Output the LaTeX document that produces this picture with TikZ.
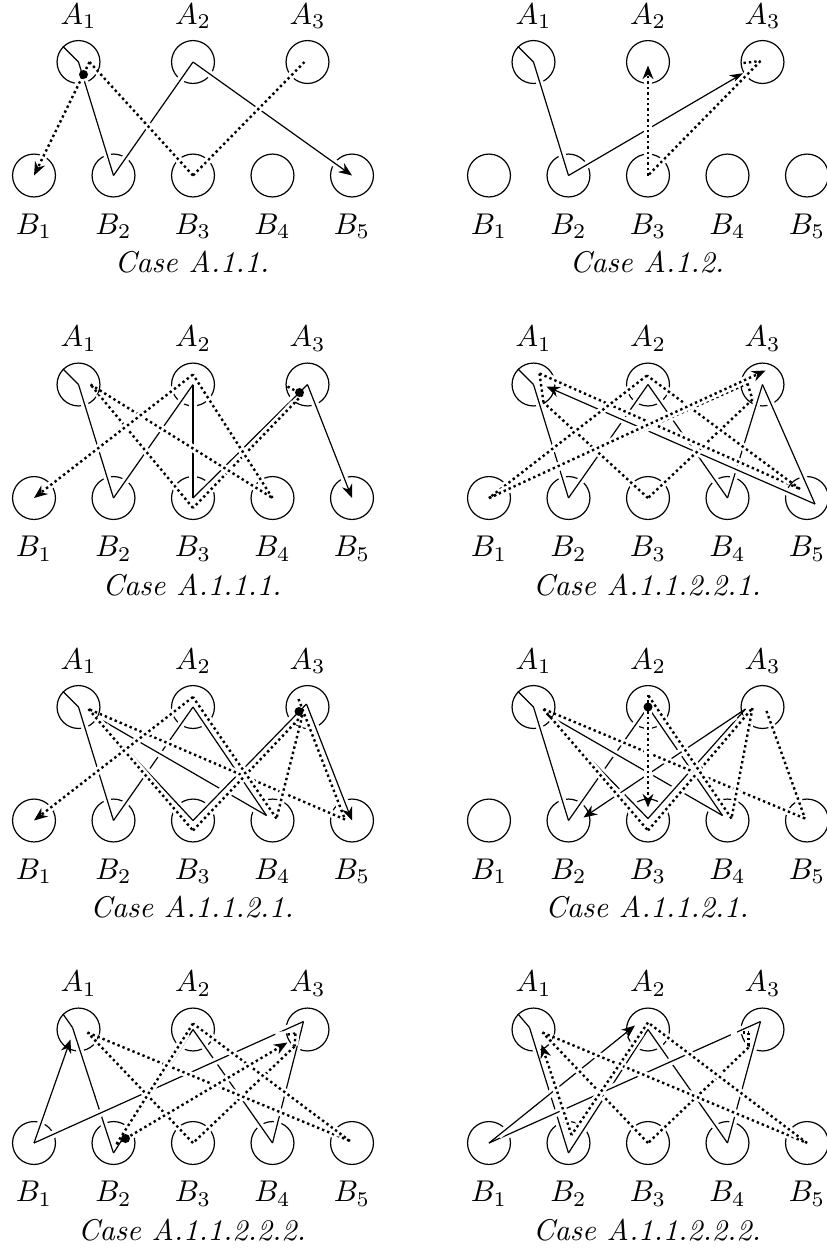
\documentclass[tikz,border=0pt]{standalone}
\usepackage{tikz}
\usetikzlibrary{arrows.meta}

% draw a list of points as separate segments, later ones over earlier ones
\newcommand\chain[2]{%
  \foreach \here [count=\idx, remember=\here as \there] in {#2}{%
    \ifnum\idx>1 \draw[#1] \there -- \here;\fi}}

\begin{document}
\begin{tikzpicture}[x=0.33333pt, y=-0.33333pt,
  >={Stealth[length=4.5pt,width=3.6pt]},
  vertex/.style={circle, draw, inner sep=0pt, minimum size=14.3pt},
  halo/.style={preaction={draw=white, line width=2.5pt, solid, -, shorten <=4pt, shorten >=4pt}},
  sline/.style={halo},
  dline/.style={halo, thick, densely dotted},
  blob/.style={circle, fill, inner sep=0pt, minimum size=3pt}]

  \useasboundingbox (0,0) rectangle (827,1251);

  %Define nodes
  \foreach \p/\px/\py/\case in {a/0/0/A.1.1., b/455/0/A.1.2., c/0/322.5/A.1.1.1., d/455/322.5/A.1.1.2.2.1.,
      e/0/645/A.1.1.2.1., f/455/645/A.1.1.2.1., g/0/967.5/A.1.1.2.2.2., h/455/967.5/A.1.1.2.2.2.}{
    \begin{scope}[shift={(\px,\py)}]
      \foreach \i/\x in {1/78.5,2/193,3/307.5}{
        \node[vertex] (\p A\i) at (\x,62) {};
        \node (\p LA\i) at (\x,16) {$A_\i$};
      }
      \foreach \i/\x in {1/34,2/113.5,3/193,4/272.5,5/352}{
        \node[vertex] (\p B\i) at (\x,175.5) {};
        \node (\p LB\i) at (\x,226) {$B_\i$};
      }
      \node (\p case) at (192,262.5) {\textit{Case \case}};
    \end{scope}
  }

  % Connect the nodes: Case A.1.1.
  \chain{sline}{(aA1.135),(aA1.center),(aB2.center),(aA2.center)}
  \draw[sline,->] (aA2.center) -- (aB5.center);
  \chain{dline}{([shift={(-3,0)}]aA3.center),(aB3.center),([shift={(11,0)}]aA1.center)}
  \draw[dline,->] ([shift={(11,0)}]aA1.center) -- (aB1.center);
  \node[blob] (aDot) at ([shift={(5,12.5)}]aA1.center) {};

  % Connect the nodes: Case A.1.2.
  \chain{sline}{(bA1.135),(bA1.center),(bB2.center)}
  \draw[sline,->] (bB2.center) -- (bA3);
  \chain{dline}{([shift={(-19,1)}]bA3.center),([shift={(-2,-1)}]bA3.center),(bB3.center)}
  \draw[dline,->] (bB3.center) -- ([shift={(0,3.5)}]bA2.center);

  % Connect the nodes: Case A.1.1.1.
  \chain{sline}{(cA1.135),(cA1.center),(cB2.center),(cA2.center),(cB3.center),(cA3.center)}
  \draw[sline,->] (cA3.center) -- (cB5.center);
  \chain{dline}{([shift={(-20,2)}]cA3.center),([shift={(-5,10)}]cA3.center),([shift={(0,10)}]cB3.center),
    ([shift={(12,0)}]cA1.center),(cB4.center),([shift={(0,-10)}]cA2.center)}
  \draw[dline,->] ([shift={(0,-10)}]cA2.center) -- (cB1.center);
  \node[blob] (cDot) at ([shift={(-8,8)}]cA3.center) {};

  % Connect the nodes: Case A.1.1.2.2.1.
  \chain{sline}{(dA1.135),(dA1.center),(dB2.center),(dA2.center),(dB4.center),(dA3.center),([shift={(8,6)}]dB5.center)}
  \draw[sline,->] ([shift={(8,6)}]dB5.center) -- ([shift={(13,2)}]dA1.center);
  \chain{dline}{(dB1.center),([shift={(-15,-1)}]dA3.center),([shift={(-10,15)}]dA3.center),(dB3.center),
    ([shift={(10,18)}]dA1.center),([shift={(6,-11)}]dA1.center),([shift={(-7,-9)}]dB5.center),
    ([shift={(-1,-9)}]dA2.center),(dB1.center)}
  \draw[dline,->] (dB1.center) -- ([shift={(3,-14)}]dA3.center);

  % Connect the nodes: Case A.1.1.2.1. (left)
  \chain{sline}{(eA1.135),(eA1.center),(eB2.center),(eA2.center),([shift={(-6,-5)}]eB4.center),
    ([shift={(18,10)}]eA1.center),(eB3.center),([shift={(-1,-3)}]eA3.center)}
  \draw[sline,->] ([shift={(-1,-3)}]eA3.center) -- (eB5.center);
  \chain{dline}{([shift={(-9,-8)}]eA3.center),([shift={(-7,-1)}]eB5.center),([shift={(10,2)}]eA1.center),
    ([shift={(0,10)}]eB3.center),([shift={(-5,8)}]eA3.center),([shift={(4,-2)}]eB4.center),([shift={(0,-10)}]eA2.center)}
  \draw[dline,->] ([shift={(0,-10)}]eA2.center) -- (eB1.center);
  \node[blob] (eDot) at ([shift={(-8.5,4.5)}]eA3.center) {};

  % Connect the nodes: Case A.1.1.2.1. (right)
  \chain{sline}{(fA1.135),(fA1.center),(fB2.center),(fA2.center),([shift={(-5,-5)}]fB4.center),
    ([shift={(13,7)}]fA1.center),([shift={(0,-2)}]fB3.center),([shift={(-17,2)}]fA3.center)}
  \draw[sline,->] ([shift={(-17,2)}]fA3.center) -- ([shift={(15,-3)}]fB2.center);
  \chain{dline}{([shift={(4,4)}]fA3.center),([shift={(-2,-2)}]fB5.center),([shift={(10,2)}]fA1.center),
    ([shift={(0,10)}]fB3.center),([shift={(-10,1)}]fA3.center),([shift={(4,-2)}]fB4.center),([shift={(0,-12)}]fA2.center)}
  \draw[dline,->] ([shift={(0,-12)}]fA2.center) -- ([shift={(0,-13)}]fB3.center);
  \node[blob] (fDot) at (fA2.center) {};

  % Connect the nodes: Case A.1.1.2.2.2. (left)
  \chain{sline}{(gA1.135),([shift={(-6,-2)}]gA1.center),([shift={(0,10)}]gB2.center),(gA2.center),(gB4.center),
    ([shift={(-4,-8)}]gA3.center),(gB1.center)}
  \draw[sline,->] (gB1.center) -- ([shift={(-8,10)}]gA1.center);
  \chain{dline}{([shift={(-20,5)}]gA3.center),([shift={(-12,4)}]gA3.center),([shift={(-13,17)}]gA3.center),(gB3.center),
    ([shift={(9,3)}]gA1.center),([shift={(-2,-2)}]gB5.center),([shift={(0,-6)}]gA2.center),([shift={(3,1)}]gB2.center)}
  \draw[dline,->] ([shift={(3,1)}]gB2.center) -- ([shift={(-20,13)}]gA3.center);
  \node[blob] (gDot) at ([shift={(12,-4.5)}]gB2.center) {};

  % Connect the nodes: Case A.1.1.2.2.2. (right)
  \chain{sline}{(hA1.135),([shift={(-4,-2)}]hA1.center),([shift={(0,10)}]hB2.center),(hA2.center),(hB4.center),
    ([shift={(-2,-8)}]hA3.center),(hB1.center)}
  \draw[sline,->] (hB1.center) -- ([shift={(-13,-4)}]hA2.center);
  \chain{dline}{([shift={(-20,3)}]hA3.center),([shift={(-14,3)}]hA3.center),([shift={(-14,18)}]hA3.center),(hB3.center),
    ([shift={(9,3)}]hA1.center),(hB5.center),([shift={(0,-7)}]hA2.center),([shift={(3,-8)}]hB2.center)}
  \draw[dline,->] ([shift={(3,-8)}]hB2.center) -- ([shift={(8,15)}]hA1.center);

\end{tikzpicture}
\end{document}
